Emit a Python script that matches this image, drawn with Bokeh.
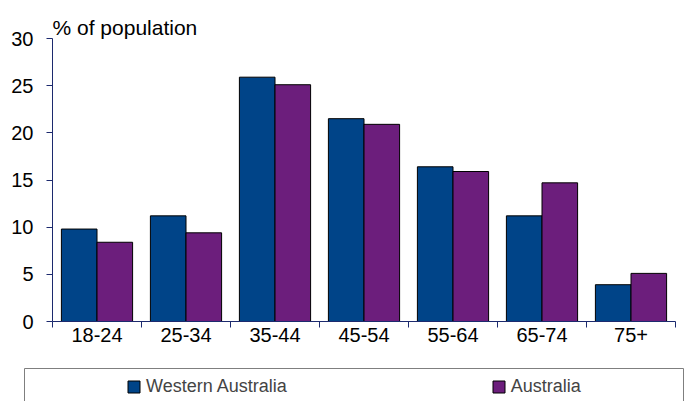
import numpy as np
from bokeh.plotting import figure
from bokeh.models import (FixedTicker, Range1d, Legend, LegendItem, Label,
                          BoxAnnotation, ColumnDataSource, LinearAxis)
from bokeh.transform import dodge
from bokeh.embed import file_html
from bokeh.resources import INLINE

categories = ["18-24", "25-34", "35-44", "45-54", "55-64", "65-74", "75+"]
western_australia = [9.8, 11.2, 25.9, 21.5, 16.4, 11.2, 3.9]
australia = [8.4, 9.4, 25.1, 20.9, 15.9, 14.7, 5.1]
y_ticks = [0, 5, 10, 15, 20, 25, 30]
y_max = 30

FONT = "Liberation Sans"
AXIS_COLOR = "#1c2a6e"
WA_COLOR = "#004488"
AU_COLOR = "#6c1e7c"

# layout in pixels
W, H = 686, 401
PL, PR, PT, PB = 52, 675, 38, 321   # plotting area edges

n = len(categories)
kx = n / (PR - PL)
ky = y_max / (PB - PT)


def xpx(px):
    return (px - PL) * kx


def ypx(py):
    return (PB - py) * ky


centers = list(np.arange(n) + 0.5)
bounds = list(np.arange(n + 1).astype(float))
src = ColumnDataSource(dict(x=centers, wa=western_australia, au=australia))

p = figure(width=W, height=H, x_range=Range1d(xpx(0), xpx(W)),
           y_range=Range1d(ypx(H), ypx(0)),
           x_axis_type=None, y_axis_type=None,
           output_backend="svg", toolbar_location=None,
           min_border=0)
p.outline_line_color = None
p.grid.visible = False

r1 = p.vbar(x=dodge("x", -0.2), top="wa", width=0.4, source=src,
            fill_color=WA_COLOR, line_color="black", line_width=1)
r2 = p.vbar(x=dodge("x", 0.2), top="au", width=0.4, source=src,
            fill_color=AU_COLOR, line_color="black", line_width=1)

# x axis at y = 0
xa = LinearAxis(fixed_location=0, bounds=(0, n))
xa.ticker = FixedTicker(ticks=centers, minor_ticks=bounds)
xa.major_label_overrides = {c: lab for c, lab in zip(centers, categories)}
xa.major_tick_out = 0
xa.major_tick_in = 0
xa.minor_tick_out = 6
xa.minor_tick_in = 0
xa.minor_tick_line_color = AXIS_COLOR
xa.axis_line_color = AXIS_COLOR
xa.major_label_text_font = FONT
xa.major_label_text_font_size = "20px"
xa.major_label_text_color = "black"
xa.major_label_standoff = 0
p.add_layout(xa, "below")

# y axis at x = 0
ya = LinearAxis(fixed_location=0, bounds=(0, y_max))
ya.ticker = FixedTicker(ticks=y_ticks, minor_ticks=[])
ya.major_tick_out = 6
ya.major_tick_in = 0
ya.major_tick_line_color = AXIS_COLOR
ya.axis_line_color = AXIS_COLOR
ya.major_label_text_font = FONT
ya.major_label_text_font_size = "20px"
ya.major_label_text_color = "black"
ya.major_label_standoff = 13
p.add_layout(ya, "left")

title = Label(x=0, y=y_max, text="% of population", y_offset=11,
              text_baseline="alphabetic", text_font=FONT,
              text_font_size="21px", text_color="black")
p.add_layout(title)

box = BoxAnnotation(left=xpx(24), right=xpx(683), top=ypx(368), bottom=ypx(430),
                    fill_alpha=0, line_color="#7f7f7f", line_alpha=1, line_width=1)
p.add_layout(box)

legend = Legend(items=[LegendItem(label="Western Australia", renderers=[r1]),
                       LegendItem(label="Australia", renderers=[r2])],
                orientation="horizontal", location=(126, 4),
                padding=0, margin=0, spacing=204,
                glyph_width=15, glyph_height=15, label_standoff=5,
                label_text_font=FONT, label_text_font_size="18px",
                border_line_alpha=0, background_fill_alpha=0)
p.add_layout(legend, "center")

open("out.html", "w").write(file_html(p, INLINE))
